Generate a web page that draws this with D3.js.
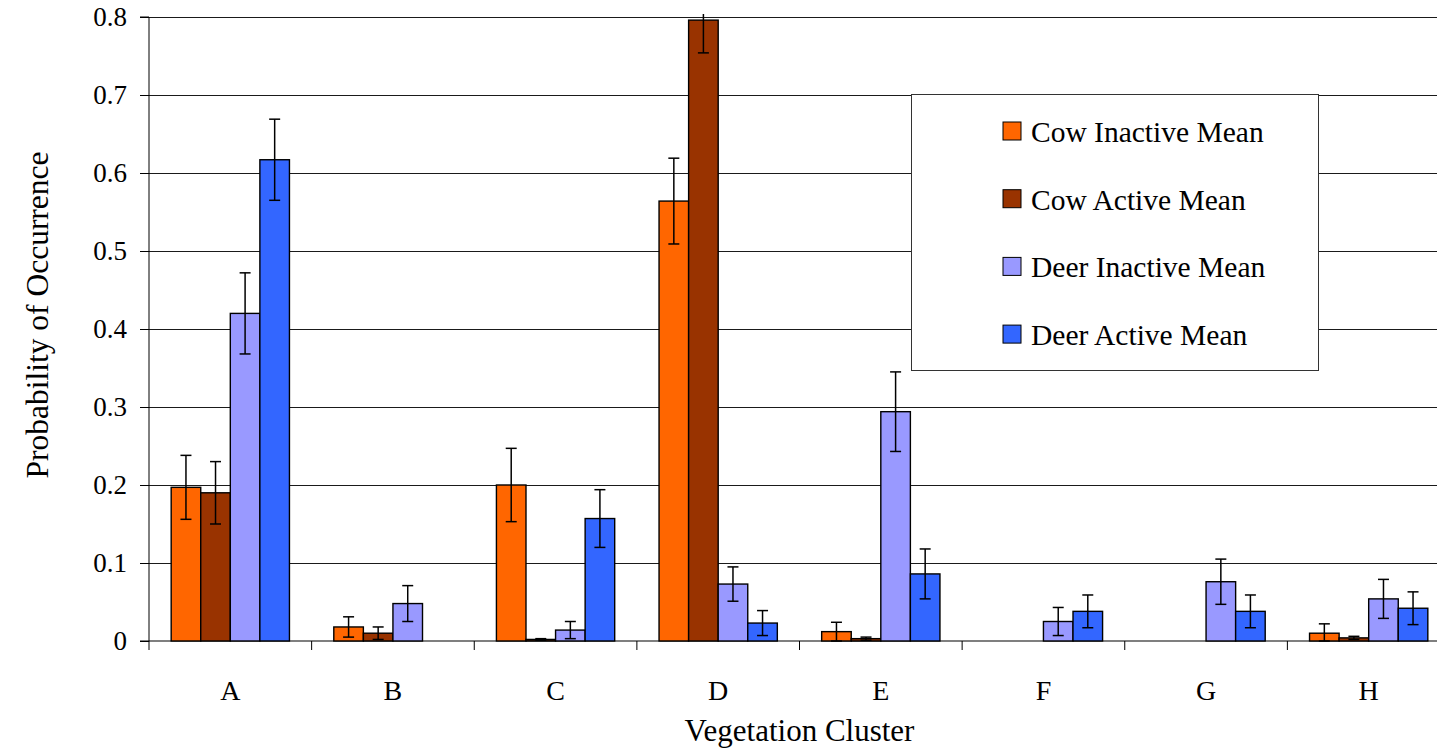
<!DOCTYPE html>
<html>
<head>
<meta charset="utf-8">
<script src="https://cdn.jsdelivr.net/npm/d3@7"></script>
<style>
  body { margin: 0; background: #fff; }
  text { font-family: "Liberation Serif", "Times New Roman", serif; fill: #000; }
</style>
</head>
<body>
<div id="grafica"></div>
<script>
// Data
var categories = ["A", "B", "C", "D", "E", "F", "G", "H"];
var seriesNames = ["Cow Inactive Mean", "Cow Active Mean", "Deer Inactive Mean", "Deer Active Mean"];
var seriesColors = ["#FF6600", "#993300", "#9999FF", "#3366FF"];

var cowInactive = [0.197, 0.018, 0.200, 0.564, 0.012, 0, 0, 0.010];
var cowInactiveErr = [0.041, 0.013, 0.047, 0.055, 0.012, 0, 0, 0.012];
var cowActive = [0.190, 0.010, 0.002, 0.796, 0.003, 0, 0, 0.004];
var cowActiveErr = [0.040, 0.008, 0.001, 0.042, 0.002, 0, 0, 0.002];
var deerInactive = [0.420, 0.048, 0.014, 0.073, 0.294, 0.025, 0.076, 0.054];
var deerInactiveErr = [0.052, 0.023, 0.011, 0.022, 0.051, 0.018, 0.029, 0.025];
var deerActive = [0.617, 0, 0.157, 0.023, 0.086, 0.038, 0.038, 0.042];
var deerActiveErr = [0.052, 0, 0.037, 0.016, 0.032, 0.021, 0.021, 0.021];

var yTicks = [0, 0.1, 0.2, 0.3, 0.4, 0.5, 0.6, 0.7, 0.8];

var values = [cowInactive, cowActive, deerInactive, deerActive];
var errors = [cowInactiveErr, cowActiveErr, deerInactiveErr, deerActiveErr];

// flatten into one row per bar
var bars = [];
categories.forEach(function (c, i) {
  seriesNames.forEach(function (s, j) {
    bars.push({ cat: c, series: s, idx: j, value: values[j][i], err: errors[j][i] });
  });
});

// margins, width and height
var margin = { top: 17, right: 0, bottom: 108, left: 149 },
  totalWidth = 1437,
  totalHeight = 749,
  width = 1301,
  height = totalHeight - margin.top - margin.bottom;

var svg = d3.select("#grafica")
  .append("svg")
  .attr("width", totalWidth)
  .attr("height", totalHeight)
  .append("g")
  .attr("transform", "translate(" + margin.left + "," + margin.top + ")");

// scales
var x = d3.scaleBand()
  .domain(categories)
  .range([0, width]);

var bw = x.bandwidth() / 5.5;
var xs = d3.scaleBand()
  .domain(seriesNames)
  .range([bw * 0.75, bw * 4.75]);

var y = d3.scaleLinear()
  .domain([0, 0.8])
  .range([height, 0]);

// horizontal gridlines
svg.append("g")
  .selectAll("line")
  .data(yTicks.filter(function (d) { return d > 0; }))
  .enter()
  .append("line")
  .attr("x1", 0)
  .attr("x2", width)
  .attr("y1", function (d) { return Math.round(y(d)) + 0.5; })
  .attr("y2", function (d) { return Math.round(y(d)) + 0.5; })
  .style("stroke", "#1a1a1a")
  .style("stroke-width", 1);

// y axis
var yAxis = svg.append("g")
  .call(d3.axisLeft(y).tickValues(yTicks).tickSize(9).tickPadding(13)
    .tickFormat(function (d) { return d === 0 ? "0" : d3.format(".1f")(d); }));
yAxis.selectAll("text").style("font-size", "27px").style("font-family", "Liberation Serif");
yAxis.select(".domain").attr("d", "M-9," + y(0.8) + "H0V" + height + "H-9");

// x axis line with ticks between categories
var xAxis = svg.append("g").attr("transform", "translate(0," + height + ")");
xAxis.append("line")
  .attr("x1", 0).attr("x2", width)
  .attr("y1", 0).attr("y2", 0)
  .style("stroke", "#000").style("stroke-width", 1.2);
xAxis.selectAll("tick")
  .data(d3.range(categories.length + 1))
  .enter()
  .append("line")
  .attr("x1", function (i) { return i * x.step(); })
  .attr("x2", function (i) { return i * x.step(); })
  .attr("y1", 0).attr("y2", 9)
  .style("stroke", "#000").style("stroke-width", 1);
xAxis.selectAll("lbl")
  .data(categories)
  .enter()
  .append("text")
  .attr("x", function (d) { return x(d) + x.bandwidth() / 2; })
  .attr("y", 59)
  .attr("text-anchor", "middle")
  .style("font-size", "28px")
  .text(function (d) { return d; });

// axis titles
svg.append("text")
  .attr("x", width / 2)
  .attr("y", height + 100)
  .attr("text-anchor", "middle")
  .style("font-size", "31px")
  .text("Vegetation Cluster");

svg.append("text")
  .attr("transform", "translate(" + (48 - margin.left) + "," + (315 - margin.top) + ") rotate(-90)")
  .attr("text-anchor", "middle")
  .style("font-size", "31.5px")
  .text("Probability of Occurrence");

// bars
svg.append("g")
  .selectAll("rect")
  .data(bars)
  .enter()
  .append("rect")
  .attr("x", function (d) { return x(d.cat) + xs(d.series); })
  .attr("y", function (d) { return y(d.value); })
  .attr("width", xs.bandwidth())
  .attr("height", function (d) { return height - y(d.value); })
  .style("fill", function (d) { return seriesColors[d.idx]; })
  .style("stroke", "#000")
  .style("stroke-width", 1.4);

// error bars (top is clipped just above the plot like the original)
var capW = 11;
var eb = svg.append("g")
  .selectAll("g")
  .data(bars.filter(function (d) { return d.err > 0; }))
  .enter()
  .append("g")
  .attr("transform", function (d) { return "translate(" + (x(d.cat) + xs(d.series) + xs.bandwidth() / 2) + ",0)"; });

eb.append("line")
  .attr("x1", 0).attr("x2", 0)
  .attr("y1", function (d) { return Math.max(y(d.value + d.err), -3); })
  .attr("y2", function (d) { return y(Math.max(d.value - d.err, 0)); })
  .style("stroke", "#000").style("stroke-width", 1.5);

eb.filter(function (d) { return y(d.value + d.err) > -3; })
  .append("line")
  .attr("x1", -capW / 2).attr("x2", capW / 2)
  .attr("y1", function (d) { return y(d.value + d.err); })
  .attr("y2", function (d) { return y(d.value + d.err); })
  .style("stroke", "#000").style("stroke-width", 1.5);

eb.append("line")
  .attr("x1", -capW / 2).attr("x2", capW / 2)
  .attr("y1", function (d) { return y(Math.max(d.value - d.err, 0)); })
  .attr("y2", function (d) { return y(Math.max(d.value - d.err, 0)); })
  .style("stroke", "#000").style("stroke-width", 1.5);

// legend
var legend = svg.append("g")
  .attr("transform", "translate(" + (911 - margin.left) + "," + (94 - margin.top) + ")");

legend.append("rect")
  .attr("x", 0.5).attr("y", 0.5)
  .attr("width", 407).attr("height", 276)
  .style("fill", "#fff")
  .style("stroke", "#333")
  .style("stroke-width", 1);

var item = legend.selectAll("item")
  .data(seriesNames)
  .enter()
  .append("g")
  .attr("transform", function (d, i) { return "translate(92," + (28 + i * 67.7) + ")"; });

item.append("rect")
  .attr("width", 18).attr("height", 18)
  .style("fill", function (d, i) { return seriesColors[i]; })
  .style("stroke", "#000")
  .style("stroke-width", 1);

item.append("text")
  .attr("x", 28)
  .attr("y", 20)
  .style("font-size", "29.5px")
  .text(function (d) { return d; });
</script>
</body>
</html>
